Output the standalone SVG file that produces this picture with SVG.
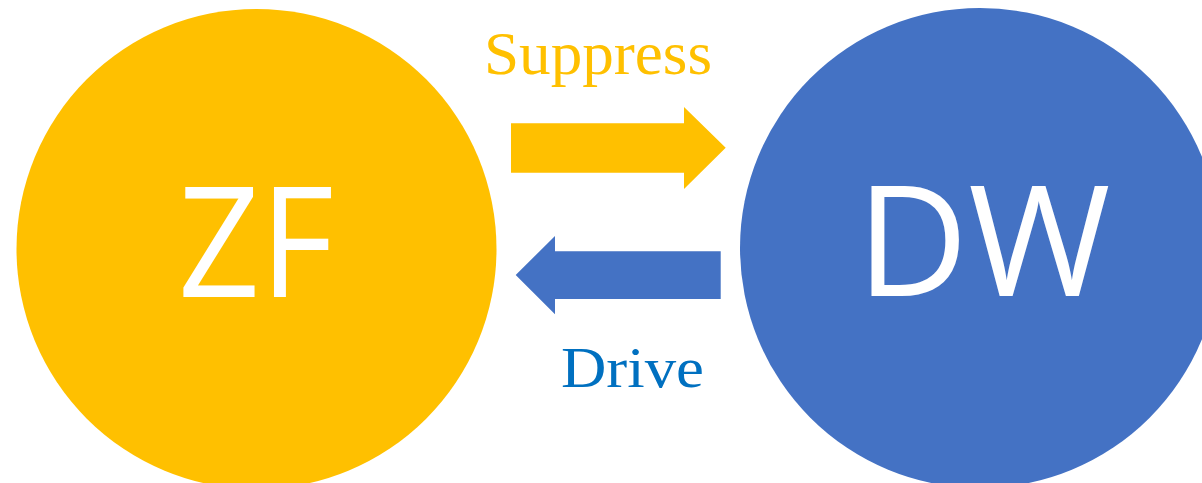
<svg xmlns="http://www.w3.org/2000/svg" width="1202" height="483" viewBox="0 0 1202 483">
<style>
.node-label{font-family:"Open Sans","Noto Sans",sans-serif;fill:#ffffff;text-anchor:middle}
.edge-label{font-family:"Liberation Serif","Times New Roman",serif}
</style>
<rect width="1202" height="483" fill="#ffffff"/>
<g id="node-zf">
<circle cx="256.5" cy="249" r="240" fill="#FFC000"/>
<text class="node-label" x="256" y="297" font-size="153" textLength="156" lengthAdjust="spacingAndGlyphs">ZF</text>
</g>
<g id="node-dw">
<circle cx="980" cy="248" r="240" fill="#4472C4"/>
<text class="node-label" x="983.5" y="296" font-size="153" textLength="254" lengthAdjust="spacingAndGlyphs">DW</text>
</g>
<g id="connectors">
<polygon points="511,123.3 684,123.3 684,107 725.7,147.7 684,189 684,172.7 511,172.7" fill="#FFC000"/>
<polygon points="720.7,251.3 555,251.3 555,236 515.7,275 555,314.3 555,299 720.7,299" fill="#4472C4"/>
<text class="edge-label" x="484" y="74" font-size="62" fill="#FFC000" textLength="228" lengthAdjust="spacingAndGlyphs">Suppress</text>
<text class="edge-label" x="561" y="387" font-size="58" fill="#0070C0" textLength="143" lengthAdjust="spacingAndGlyphs">Drive</text>
</g>
</svg>
